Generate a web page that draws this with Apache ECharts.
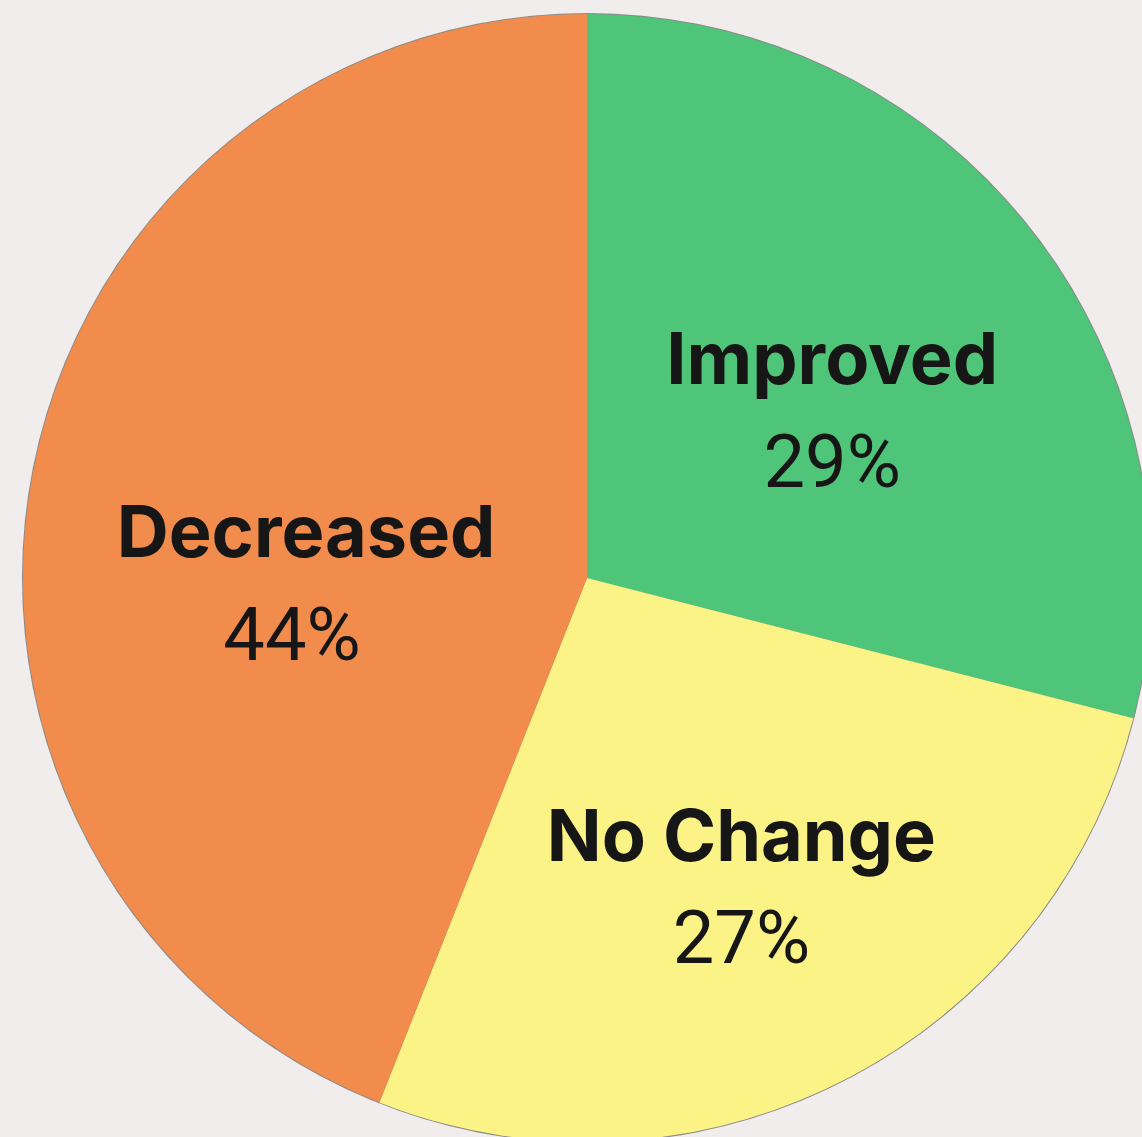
<!DOCTYPE html>
<html><head><meta charset="utf-8">
<style>html,body{margin:0;padding:0;background:#f0edec;}#c{width:1142px;height:1137px;}</style>
<script src="https://cdn.jsdelivr.net/npm/echarts@6/dist/echarts.min.js"></script>
</head><body><div id="c"></div>
<script>
const categories = ['Improved', 'No Change', 'Decreased'];
const values = [29, 27, 44];
const colors = ['#4fc57a', '#fbf386', '#f28c4c'];
const labelOffsets = [[20, 12], [25, 60], [-1, 64]];
const percentPad = [0, 0, 28];

const chart = echarts.init(document.getElementById('c'));
const data = categories.map((name, i) => ({
  name, value: values[i],
  itemStyle: { color: colors[i] },
  label: {
    offset: labelOffsets[i],
    formatter: '{n|{b}}\n{v|{c}%}',
    rich: {
      n: { fontFamily: 'Inter', fontWeight: 'bold', fontSize: 72, color: '#161616', lineHeight: 106 },
      v: { fontFamily: 'Roboto', fontWeight: 'normal', fontSize: 74, color: '#161616', lineHeight: 106, padding: [0, percentPad[i], 0, 0] }
    }
  }
}));
chart.setOption({
  backgroundColor: '#f0edec',
  animation: false,
  series: [
    { type: 'pie', center: [587, 578], radius: 565, silent: true, label: { show: false },
      data: [{ value: 1, itemStyle: { color: '#8c8a8a' } }] },
    { type: 'pie', center: [587, 578], radius: 564, startAngle: 90, clockwise: true,
      label: { show: true, position: 'inside' }, labelLine: { show: false },
      itemStyle: { borderWidth: 0 },
      data }
  ]
});
</script></body></html>
